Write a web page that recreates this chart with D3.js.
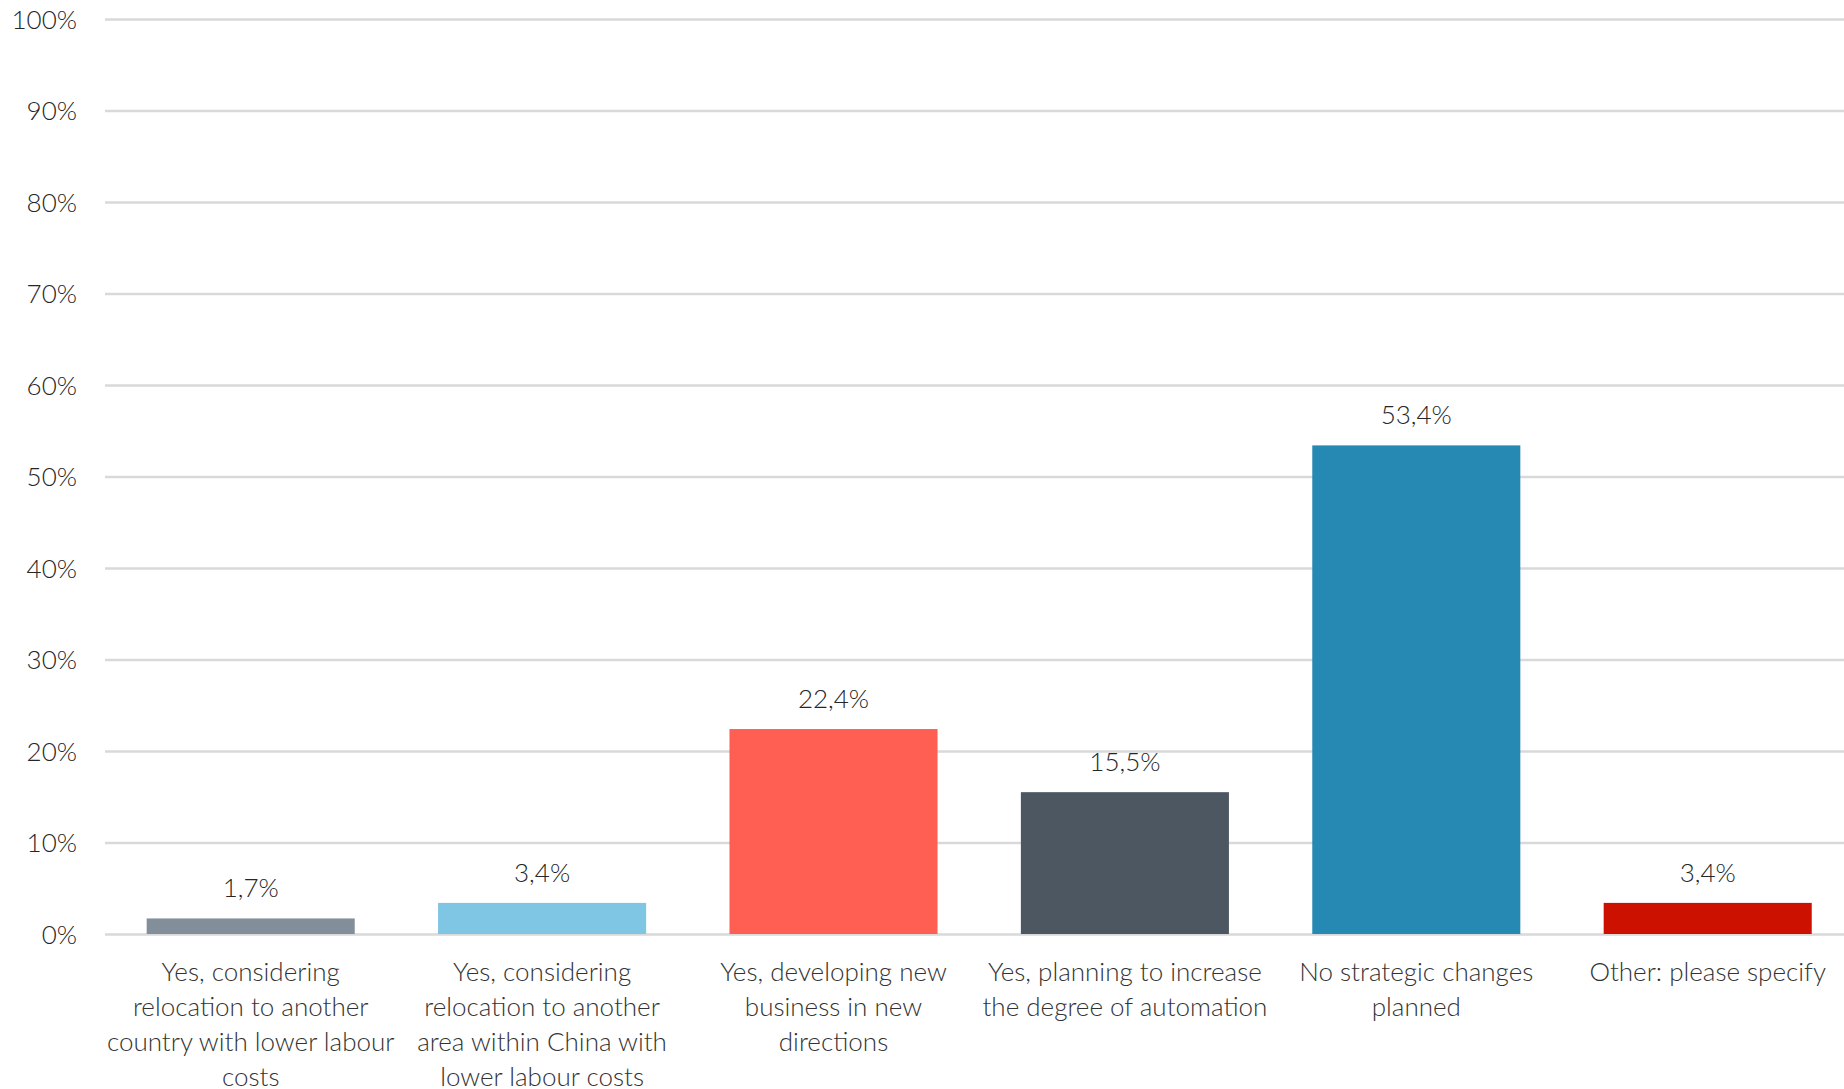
<!DOCTYPE html>
<html>
<head>
<meta charset="utf-8">
<script src="https://cdn.jsdelivr.net/npm/d3@7"></script>
<style>
  html, body { margin: 0; padding: 0; background: #fff; }
  svg text { font-family: "Source Sans Pro", Lato, "Noto Sans", sans-serif; font-weight: 300; }
</style>
</head>
<body>
<svg id="chart" width="1844" height="1089"></svg>
<script>
// Survey answers: planned strategic changes
const categories = [
  ["Yes, considering", "relocation to another", "country with lower labour", "costs"],
  ["Yes, considering", "relocation to another", "area within China with", "lower labour costs"],
  ["Yes, developing new", "business in new", "directions"],
  ["Yes, planning to increase", "the degree of automation"],
  ["No strategic changes", "planned"],
  ["Other: please specify"]
];
const values = [1.7, 3.4, 22.4, 15.5, 53.4, 3.4];
const valueLabels = ["1,7%", "3,4%", "22,4%", "15,5%", "53,4%", "3,4%"];
const colors = ["#828f9b", "#7fc5e4", "#ff5f52", "#4d5761", "#2589b3", "#cc1100"];
const yTicks = [0, 10, 20, 30, 40, 50, 60, 70, 80, 90, 100];
const yTickLabels = ["0%", "10%", "20%", "30%", "40%", "50%", "60%", "70%", "80%", "90%", "100%"];

const svg = d3.select("#chart");
const margin = { top: 19, right: 0, bottom: 155, left: 105 };
const width = 1844 - margin.left - margin.right;
const height = 1089 - margin.top - margin.bottom;
const step = 291.4;

const g = svg.append("g").attr("transform", `translate(${margin.left},${margin.top})`);

const x = d3.scaleBand().domain(d3.range(categories.length))
  .range([0, step * categories.length]).paddingInner(0.286).paddingOuter(0.143);
const y = d3.scaleLinear().domain([0, 100]).range([height, 0]);

// horizontal gridlines and percent labels
const yAxis = d3.axisLeft(y).tickValues(yTicks).tickSize(-width).tickPadding(28)
  .tickFormat((d, i) => yTickLabels[i]);
const ya = g.append("g").call(yAxis);
ya.select(".domain").remove();
ya.selectAll(".tick line").attr("stroke", "#d9d9d9").attr("stroke-width", 2.5);
ya.selectAll(".tick text").attr("fill", "#262626").style("font-size", "26px").attr("dy", "0.35em");

// bars
g.selectAll("rect.bar").data(values).join("rect")
  .attr("class", "bar")
  .attr("x", (d, i) => x(i))
  .attr("y", d => y(d))
  .attr("width", x.bandwidth())
  .attr("height", d => y(0) - y(d))
  .attr("fill", (d, i) => colors[i]);

// value labels
g.selectAll("text.val").data(values).join("text")
  .attr("class", "val")
  .attr("x", (d, i) => x(i) + x.bandwidth() / 2)
  .attr("y", d => y(d) - 21)
  .attr("text-anchor", "middle")
  .attr("fill", "#262626")
  .style("font-size", "26px")
  .text((d, i) => valueLabels[i]);

// category labels
const cat = g.selectAll("text.cat").data(categories).join("text")
  .attr("class", "cat")
  .attr("x", (d, i) => x(i) + x.bandwidth() / 2)
  .attr("y", height + 47)
  .attr("text-anchor", "middle")
  .attr("fill", "#333")
  .style("font-size", "26px");
cat.selectAll("tspan").data(d => d).join("tspan")
  .attr("x", function () { return this.parentNode.getAttribute("x"); })
  .attr("dy", (d, i) => i === 0 ? 0 : 35)
  .text(d => d);
</script>
</body>
</html>
